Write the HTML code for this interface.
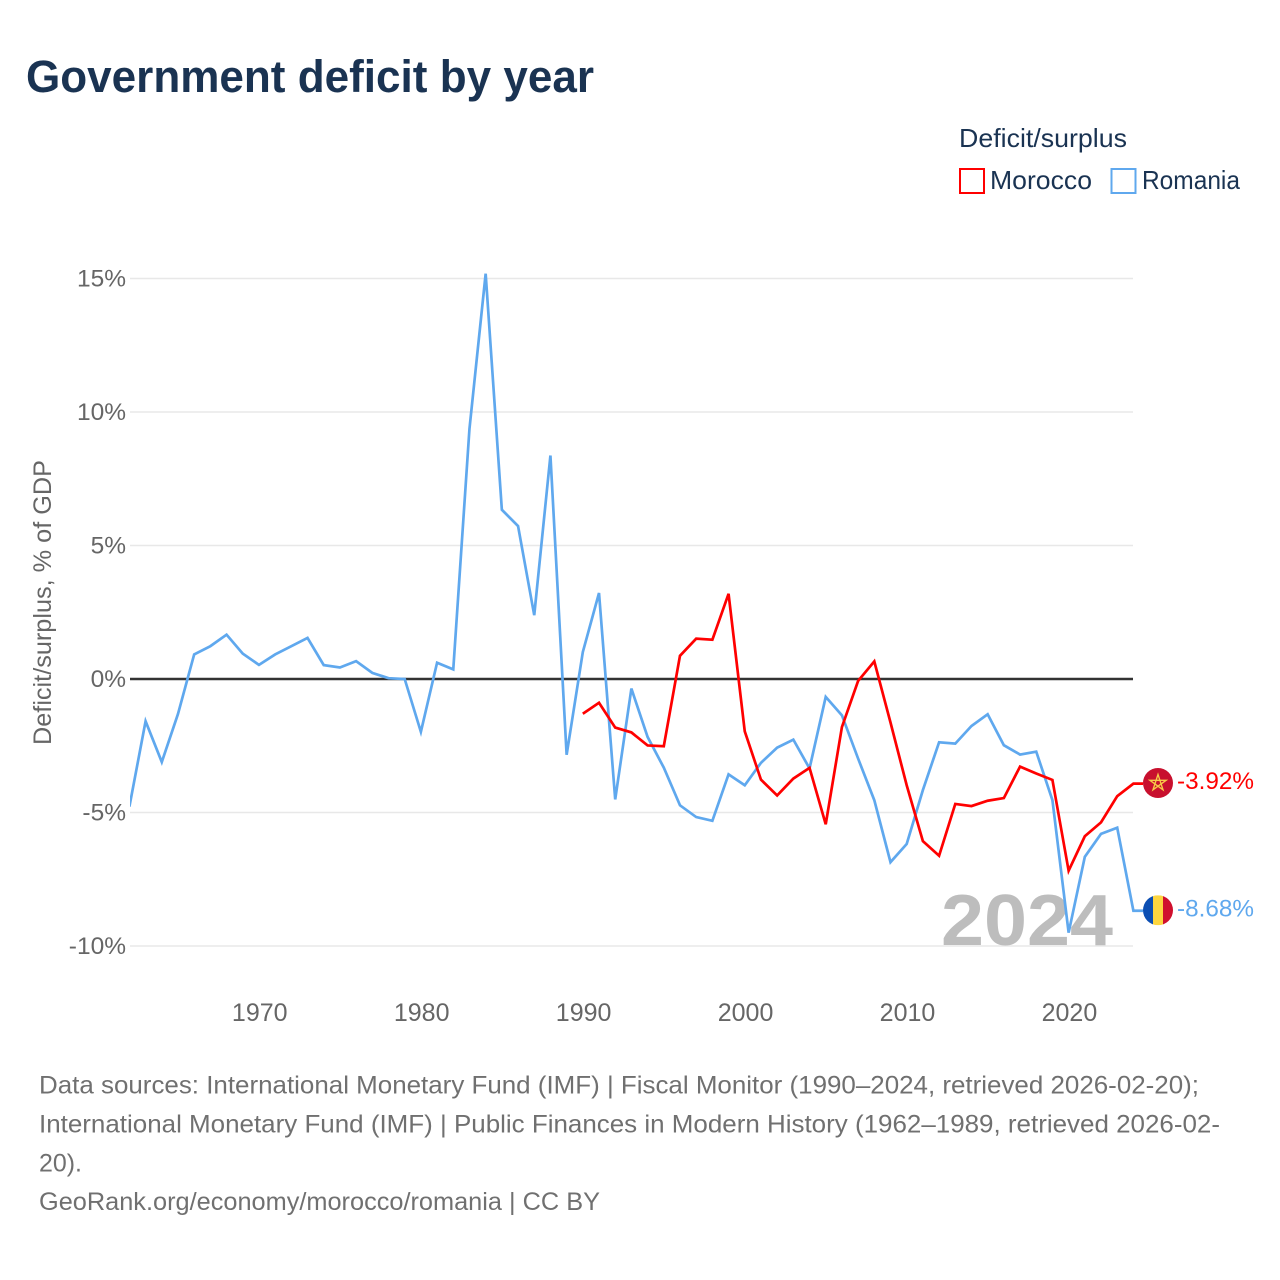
<!DOCTYPE html>
<html lang="en">
<head>
<meta charset="utf-8">
<title>Government deficit by year</title>
<style>
html,body{margin:0;padding:0;background:#fff;}
svg{display:block;font-family:"Liberation Sans",sans-serif;}
</style>
</head>
<body>
<svg id="chart" xmlns="http://www.w3.org/2000/svg" width="1280" height="1280" viewBox="0 0 1280 1280">
  <rect x="0" y="0" width="1280" height="1280" fill="#ffffff"/>
  <text x="26" y="92" font-size="45" font-weight="700" fill="#1a3352" textLength="568" lengthAdjust="spacingAndGlyphs">Government deficit by year</text>

  <g>
    <text x="959" y="147" font-size="26" fill="#1a3352" textLength="168" lengthAdjust="spacingAndGlyphs">Deficit/surplus</text>
    <g>
      <rect x="960" y="169" width="24" height="24" fill="none" stroke="#ff0000" stroke-width="2"/>
      <text x="990" y="189" font-size="26" fill="#1a3352" textLength="102" lengthAdjust="spacingAndGlyphs">Morocco</text>
    </g>
    <g>
      <rect x="1111.5" y="169" width="24" height="24" fill="none" stroke="#5fa8ee" stroke-width="2"/>
      <text x="1142" y="189" font-size="26" fill="#1a3352" textLength="98" lengthAdjust="spacingAndGlyphs">Romania</text>
    </g>
  </g>

  <text transform="translate(51,745) rotate(-90)" x="0" y="0" font-size="25" fill="#666666" textLength="285" lengthAdjust="spacingAndGlyphs">Deficit/surplus, % of GDP</text>

  <g id="grid"></g>
  <g id="y-ticks"></g>
  <g id="x-ticks"></g>

  <text x="941" y="945" font-size="72" font-weight="700" fill="#bdbdbd" textLength="172" lengthAdjust="spacingAndGlyphs">2024</text>

  <g id="series"></g>
  <g id="end-markers"></g>

  <g font-size="25" fill="#707070">
    <text x="39" y="1093.5" textLength="1160" lengthAdjust="spacingAndGlyphs">Data sources: International Monetary Fund (IMF) | Fiscal Monitor (1990–2024, retrieved 2026-02-20);</text>
    <text x="39" y="1132.5" textLength="1181" lengthAdjust="spacingAndGlyphs">International Monetary Fund (IMF) | Public Finances in Modern History (1962–1989, retrieved 2026-02-</text>
    <text x="39" y="1171.5" textLength="43" lengthAdjust="spacingAndGlyphs">20).</text>
    <text x="39" y="1210" textLength="561" lengthAdjust="spacingAndGlyphs">GeoRank.org/economy/morocco/romania | CC BY</text>
  </g>
</svg>
<script>
const yTickValues = [15, 10, 5, 0, -5, -10];
const xTickYears = [1970, 1980, 1990, 2000, 2010, 2020];
const romaniaStartYear = 1962;
const romaniaValues = [
  -4.78, -1.58, -3.11, -1.31, 0.92, 1.23, 1.66, 0.95, 0.53, 0.92,
  1.23, 1.54, 0.52, 0.43, 0.67, 0.23, 0.03, 0, -1.98, 0.61,
  0.36, 9.37, 15.18, 6.34, 5.73, 2.39, 8.37, -2.84, 1.01, 3.22,
  -4.51, -0.36, -2.17, -3.32, -4.73, -5.17, -5.31, -3.57, -3.98, -3.14,
  -2.57, -2.27, -3.35, -0.67, -1.36, -2.98, -4.54, -6.86, -6.18, -4.16,
  -2.37, -2.42, -1.76, -1.32, -2.48, -2.83, -2.72, -4.54, -9.5, -6.66,
  -5.8, -5.57, -8.68
];
const moroccoStartYear = 1990;
const moroccoValues = [
  -1.3, -0.89, -1.82, -2.0, -2.49, -2.52, 0.87, 1.51, 1.47, 3.19,
  -1.96, -3.77, -4.36, -3.73, -3.33, -5.44, -1.8, -0.07, 0.66, -1.63,
  -3.98, -6.07, -6.62, -4.68, -4.76, -4.56, -4.46, -3.28, -3.54, -3.78,
  -7.18, -5.89, -5.37, -4.39, -3.92
];
const NS = 'http://www.w3.org/2000/svg';
const xLeft = 129.4, xRight = 1133.4, yearMin = 1962, yearMax = 2024;
const yZero = 679, pxPerPct = 26.7;
function xScale(year) { return xLeft + (year - yearMin) * (xRight - xLeft) / (yearMax - yearMin); }
function yScale(v) { return yZero - v * pxPerPct; }
function make(tag, attrs) {
  const el = document.createElementNS(NS, tag);
  for (const k in attrs) el.setAttribute(k, attrs[k]);
  return el;
}
const gridG = document.getElementById('grid');
const yG = document.getElementById('y-ticks');
const xG = document.getElementById('x-ticks');
const seriesG = document.getElementById('series');
const endG = document.getElementById('end-markers');

yTickValues.forEach(function (v) {
  const ln = make('line', { x1: 130, x2: 1133, y1: yScale(v), y2: yScale(v), stroke: '#e8e8e8', 'stroke-width': 1.5 });
  
  
  gridG.appendChild(ln);
  const t = make('text', { x: 126, y: yScale(v) + 8, 'text-anchor': 'end', 'font-size': 24.5, fill: '#666666' });
  t.textContent = v + '%';
  
  
  yG.appendChild(t);
});

xTickYears.forEach(function (yr) {
  const t = make('text', { x: xScale(yr) + 0.8, y: 1021, 'text-anchor': 'middle', 'font-size': 25, fill: '#666666' });
  t.textContent = String(yr);
  
  
  xG.appendChild(t);
});

const plotClip = make('clipPath', { id: 'plot-clip' });
plotClip.appendChild(make('rect', { x: 130, y: 200, width: 1040, height: 800 }));
const plotDefs = make('defs', {});
plotDefs.appendChild(plotClip);
seriesG.appendChild(plotDefs);

function drawSeries(values, startYear, color, nameStr) {
  const pts = values.map(function (v, i) { return xScale(startYear + i).toFixed(2) + ',' + yScale(v).toFixed(2); });
  const last = values[values.length - 1];
  pts.push('1143,' + yScale(last).toFixed(2));
  const pl = make('polyline', { points: pts.join(' '), fill: 'none', stroke: color, 'stroke-width': 2.7, 'stroke-linejoin': 'miter', 'clip-path': 'url(#plot-clip)' });
  
  
  seriesG.appendChild(pl);
}
const zero = make('line', { x1: 130, x2: 1133, y1: yScale(0), y2: yScale(0), stroke: '#333333', 'stroke-width': 2.6 });


gridG.appendChild(zero);
drawSeries(romaniaValues, romaniaStartYear, '#5fa8ee', 'line-romania');
drawSeries(moroccoValues, moroccoStartYear, '#ff0000', 'line-morocco');

function endLabel(value, color, nameStr) {
  const t = make('text', { x: 1177, y: yScale(value) + 5.5, 'font-size': 24, fill: color, textLength: 77, lengthAdjust: 'spacingAndGlyphs' });
  t.textContent = value.toFixed(2) + '%';
  
  
  endG.appendChild(t);
}

const moroccoLast = moroccoValues[moroccoValues.length - 1];
const romaniaLast = romaniaValues[romaniaValues.length - 1];
const cx = 1158;
const my = yScale(moroccoLast) - 0.7;
const ry = yScale(romaniaLast) - 0.5;

const moFlag = make('g', {});


moFlag.appendChild(make('circle', { cx: cx, cy: my, r: 15, fill: '#c8102e' }));
const starR = 8.5;
let starPts = [];
for (let i = 0; i < 5; i++) {
  const a = -Math.PI / 2 + i * 2 * (2 * Math.PI / 5);
  starPts.push((cx + starR * Math.cos(a)).toFixed(2) + ',' + (my + starR * Math.sin(a)).toFixed(2));
}
moFlag.appendChild(make('polygon', { points: starPts.join(' '), fill: 'none', stroke: '#f7c948', 'stroke-width': 1.4 }));
endG.appendChild(moFlag);

const defs = make('defs', {});
const clip = make('clipPath', { id: 'ro-clip' });
clip.appendChild(make('circle', { cx: cx, cy: ry, r: 15 }));
defs.appendChild(clip);
endG.appendChild(defs);
const roFlag = make('g', { 'clip-path': 'url(#ro-clip)' });


roFlag.appendChild(make('rect', { x: cx - 15, y: ry - 15, width: 10, height: 30, fill: '#0b4eb3' }));
roFlag.appendChild(make('rect', { x: cx - 5, y: ry - 15, width: 10, height: 30, fill: '#fdd640' }));
roFlag.appendChild(make('rect', { x: cx + 5, y: ry - 15, width: 10, height: 30, fill: '#d0102e' }));
endG.appendChild(roFlag);

endLabel(moroccoLast, '#ff0000', 'end-label-morocco');
endLabel(romaniaLast, '#5fa8ee', 'end-label-romania');
</script>
</body>
</html>
